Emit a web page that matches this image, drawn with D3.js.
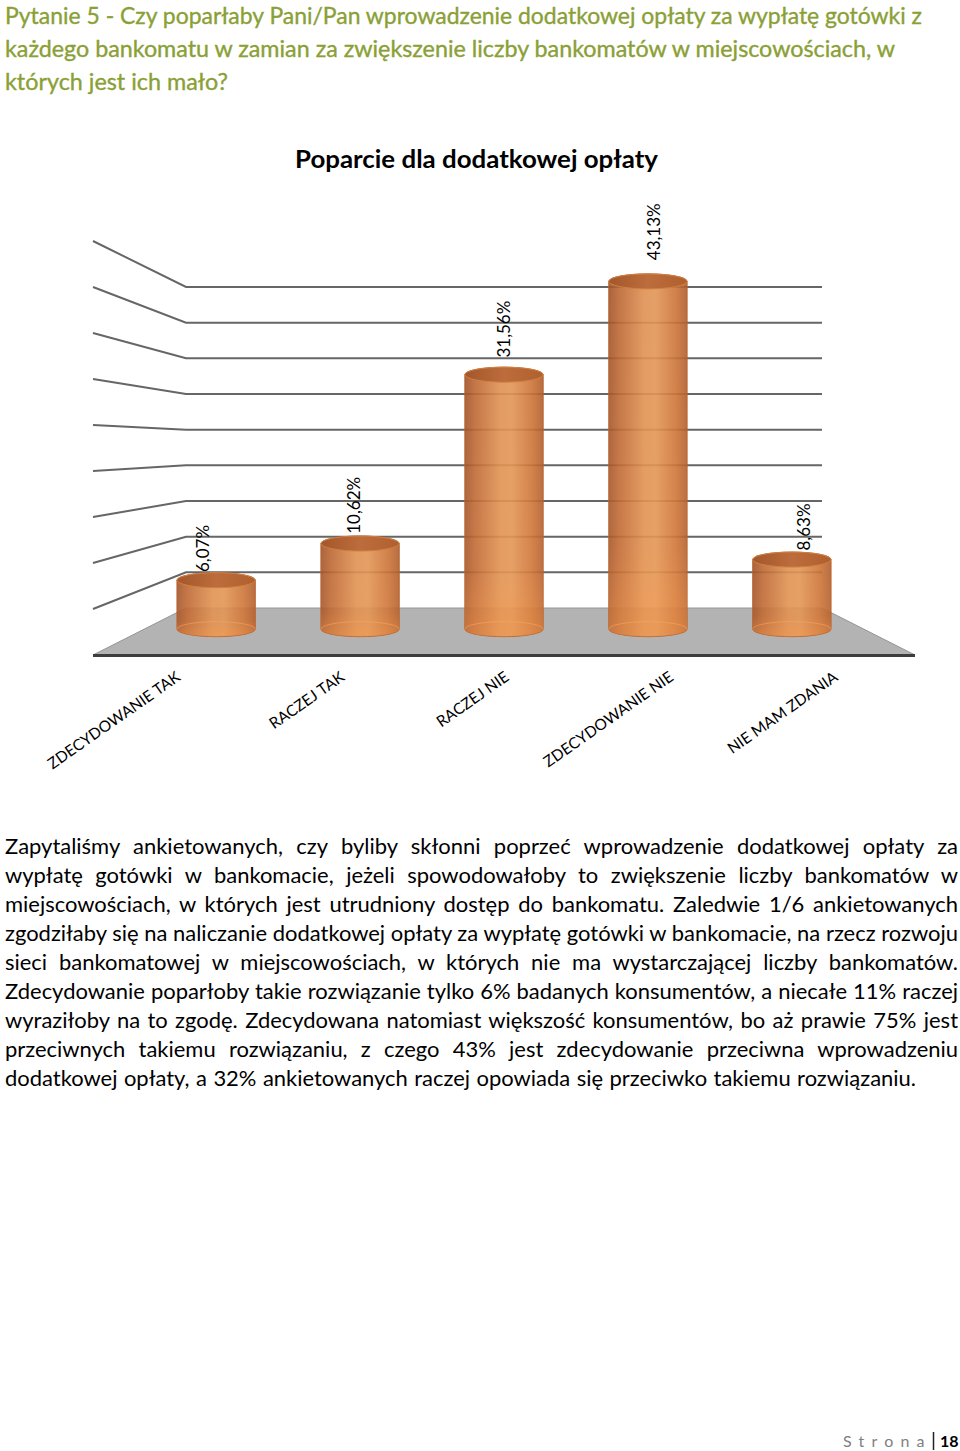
<!DOCTYPE html>
<html>
<head>
<meta charset="utf-8">
<script src="https://cdn.jsdelivr.net/npm/d3@7/dist/d3.min.js"></script>
<style>
  html, body { margin: 0; padding: 0; background: #fff; }
  svg { display: block; }
</style>
</head>
<body>
<script>
// ---------------- DATA ----------------
const categories = ["ZDECYDOWANIE TAK", "RACZEJ TAK", "RACZEJ NIE", "ZDECYDOWANIE NIE", "NIE MAM ZDANIA"];
const values = [6.07, 10.62, 31.56, 43.13, 8.63];
const valueLabels = ["6,07%", "10,62%", "31,56%", "43,13%", "8,63%"];
const gridTicks = [0, 5, 10, 15, 20, 25, 30, 35, 40, 45];
const chartTitle = "Poparcie dla dodatkowej opłaty";
const headingLines = [
  "Pytanie 5 - Czy poparłaby Pani/Pan wprowadzenie dodatkowej opłaty za wypłatę gotówki z",
  "każdego bankomatu w zamian za zwiększenie liczby bankomatów w miejscowościach, w",
  "których jest ich mało?"
];
const bodyLines = [
  "Zapytaliśmy ankietowanych, czy byliby skłonni poprzeć wprowadzenie dodatkowej opłaty za",
  "wypłatę gotówki w bankomacie, jeżeli spowodowałoby to zwiększenie liczby bankomatów w",
  "miejscowościach, w których jest utrudniony dostęp do bankomatu. Zaledwie 1/6 ankietowanych",
  "zgodziłaby się na naliczanie dodatkowej opłaty za wypłatę gotówki w bankomacie, na rzecz rozwoju",
  "sieci bankomatowej w miejscowościach, w których nie ma wystarczającej liczby bankomatów.",
  "Zdecydowanie poparłoby takie rozwiązanie tylko 6% badanych konsumentów, a niecałe 11% raczej",
  "wyraziłoby na to zgodę. Zdecydowana natomiast większość konsumentów, bo aż prawie 75% jest",
  "przeciwnych takiemu rozwiązaniu, z czego 43% jest zdecydowanie przeciwna wprowadzeniu",
  "dodatkowej opłaty, a 32% ankietowanych raczej opowiada się przeciwko takiemu rozwiązaniu."
];
const footerWord = "Strona";
const pageNumber = "18";

// ---------------- DRAW ----------------
function draw() {
  const W = 960, H = 1451;
  const FONT = "Lato, 'Open Sans', 'Noto Sans', sans-serif";
  const svg = d3.select("body").append("svg").attr("width", W).attr("height", H)
    .style("font-family", FONT);
  svg.append("rect").attr("width", W).attr("height", H).attr("fill", "#fff");

  const defs = svg.append("defs");
  const gBody = defs.append("linearGradient").attr("id", "barBody").attr("x1", 0).attr("x2", 1).attr("y1", 0).attr("y2", 0);
  [[0, "#9e532a"], [0.12, "#bb6532"], [0.45, "#df9152"], [0.6, "#e19556"], [0.85, "#cc7438"], [1, "#b05d2c"]]
    .forEach(([o, c]) => gBody.append("stop").attr("offset", o).attr("stop-color", c));
  const gShade = defs.append("linearGradient").attr("id", "barShade").attr("x1", 0).attr("x2", 0).attr("y1", 0).attr("y2", 1);
  [[0, "#ffb070", 0], [0.75, "#ffa050", 0.08], [1, "#ffa050", 0.4]]
    .forEach(([o, c, a]) => gShade.append("stop").attr("offset", o).attr("stop-color", c).attr("stop-opacity", a));
  const gTop = defs.append("linearGradient").attr("id", "barTop").attr("x1", 0).attr("x2", 1).attr("y1", 0).attr("y2", 0);
  [[0, "#a3572b"], [0.5, "#bd6c3c"], [1, "#b0602e"]]
    .forEach(([o, c]) => gTop.append("stop").attr("offset", o).attr("stop-color", c));

  // ---- heading ----
  const heading = svg.append("g").attr("fill", "#8aa036").attr("stroke", "#8aa036")
    .attr("stroke-width", 0.35).style("font-size", "23px");
  const headTargets = [917, 890, 223];
  headingLines.forEach((line, i) => {
    heading.append("text").attr("x", 5).attr("y", 24 + i * 33).text(line)
      .attr("textLength", headTargets[i]).attr("lengthAdjust", "spacingAndGlyphs");
  });

  // ---- chart title ----
  svg.append("text").attr("x", 295).attr("y", 168)
    .attr("textLength", 363).attr("lengthAdjust", "spacingAndGlyphs")
    .style("font-size", "24px").style("font-weight", "bold").attr("fill", "#000")
    .text(chartTitle);

  // ---- 3D projection ----
  const backX = d3.scaleBand().domain(categories).range([186, 822]);
  const frontX = d3.scaleBand().domain(categories).range([93, 915]);
  const backY = d3.scaleLinear().domain([0, 45]).range([608, 287]);
  const frontY = d3.scaleLinear().domain([0, 45]).range([655, 241]);
  const px = (cat, t, frac = 0.5) => {
    const b = backX(cat) + backX.bandwidth() * frac;
    const f = frontX(cat) + frontX.bandwidth() * frac;
    return b + (f - b) * t;
  };
  const py = (v, t) => backY(v) + (frontY(v) - backY(v)) * t;
  const leftX = t => backX.range()[0] + (frontX.range()[0] - backX.range()[0]) * t;
  const rightX = t => backX.range()[1] + (frontX.range()[1] - backX.range()[1]) * t;

  const chart = svg.append("g");
  // floor
  chart.append("path")
    .attr("d", `M${leftX(0)},${py(0, 0)}L${rightX(0)},${py(0, 0)}L${rightX(1)},${py(0, 1)}L${leftX(1)},${py(0, 1)}Z`)
    .attr("fill", "#b3b3b3").attr("stroke", "#969696").attr("stroke-width", 1);
  chart.append("line")
    .attr("x1", leftX(1)).attr("x2", rightX(1)).attr("y1", py(0, 1) + 0.5).attr("y2", py(0, 1) + 0.5)
    .attr("stroke", "#3d3d3d").attr("stroke-width", 3);

  // back wall gridlines + left wall lines
  const grid = chart.append("g").attr("stroke", "#666").attr("stroke-width", 2).attr("fill", "none");
  gridTicks.filter(v => v > 0).forEach(v => {
    grid.append("path")
      .attr("d", `M${leftX(1)},${py(v, 1)}L${leftX(0)},${py(v, 0)}L${rightX(0)},${py(v, 0)}`);
  });

  // bars
  const tBar = 0.45;
  const bars = chart.append("g");
  categories.forEach((cat, i) => {
    const cx = px(cat, tBar);
    const slot = backX.bandwidth() + (frontX.bandwidth() - backX.bandwidth()) * tBar;
    const rx = slot * 0.272, ry = 7.5;
    const y0 = py(0, tBar), y1 = py(values[i], tBar);
    const bodyD = `M${cx - rx},${y1}L${cx - rx},${y0}A${rx},${ry} 0 0 0 ${cx + rx},${y0}L${cx + rx},${y1}A${rx},${ry} 0 0 0 ${cx - rx},${y1}Z`;
    const g = bars.append("g");
    g.append("path").attr("d", bodyD).attr("fill", "url(#barBody)").attr("fill-opacity", 0.9)
      .attr("stroke", "#b8602c").attr("stroke-width", 1);
    g.append("path").attr("d", bodyD).attr("fill", "url(#barShade)");
    g.append("path").attr("d", `M${cx - rx},${y0}A${rx},${ry} 0 0 1 ${cx + rx},${y0}`)
      .attr("fill", "none").attr("stroke", "#f7a868").attr("stroke-opacity", 0.55).attr("stroke-width", 1);
    g.append("ellipse").attr("cx", cx).attr("cy", y1).attr("rx", rx).attr("ry", ry)
      .attr("fill", "url(#barTop)").attr("stroke", "#d08040").attr("stroke-width", 1);
  });

  // value labels (rotated)
  const tLab = 0.62;
  categories.forEach((cat, i) => {
    const x = px(cat, tLab), y = py(values[i], tLab) - 14;
    svg.append("text").attr("transform", `translate(${x},${y}) rotate(-90)`)
      .attr("dy", "0.35em").attr("text-anchor", "start")
      .style("font-size", "17px").attr("fill", "#000").text(valueLabels[i]);
  });

  // category labels
  categories.forEach((cat, i) => {
    const x = px(cat, 1) + 3, y = py(0, 1) + 20;
    svg.append("text").attr("transform", `translate(${x},${y}) rotate(-35)`)
      .attr("text-anchor", "end").attr("dy", "0.35em")
      .style("font-size", "15.5px").attr("fill", "#000").text(cat);
  });

  // ---- body text (justified) ----
  const body = svg.append("g").attr("fill", "#000");
  const baseSize = 21;
  const targets = bodyLines.map((l, i) => i === bodyLines.length - 1 ? 911 : 953);
  const tmp = bodyLines.map(l => body.append("text").style("font-size", baseSize + "px").text(l));
  const natural = tmp.map(t => t.node().getComputedTextLength());
  tmp.forEach(t => t.remove());
  const scale = Math.min(1.1, targets[3] / natural[3]);
  const size = baseSize * scale;
  bodyLines.forEach((line, i) => {
    const t = body.append("text").attr("x", 5).attr("y", 854 + i * 29)
      .style("font-size", size + "px").text(line);
    const w = t.node().getComputedTextLength();
    const n = (line.match(/ /g) || []).length;
    const ws = (targets[i] - w) / n;
    if (ws >= 0) t.style("word-spacing", ws + "px");
    else t.attr("textLength", targets[i]).attr("lengthAdjust", "spacingAndGlyphs");
  });

  // ---- footer ----
  svg.append("text").attr("x", 843).attr("y", 1447).style("font-size", "16px")
    .style("letter-spacing", "7.2px").attr("fill", "#7f7f7f").text(footerWord);
  svg.append("line").attr("x1", 933.5).attr("x2", 933.5).attr("y1", 1432).attr("y2", 1450)
    .attr("stroke", "#222").attr("stroke-width", 1.5);
  svg.append("text").attr("x", 940).attr("y", 1447).style("font-size", "16px")
    .style("font-weight", "bold").attr("fill", "#000").text(pageNumber);
}

if (document.fonts && document.fonts.ready) document.fonts.ready.then(draw); else draw();
</script>
</body>
</html>
